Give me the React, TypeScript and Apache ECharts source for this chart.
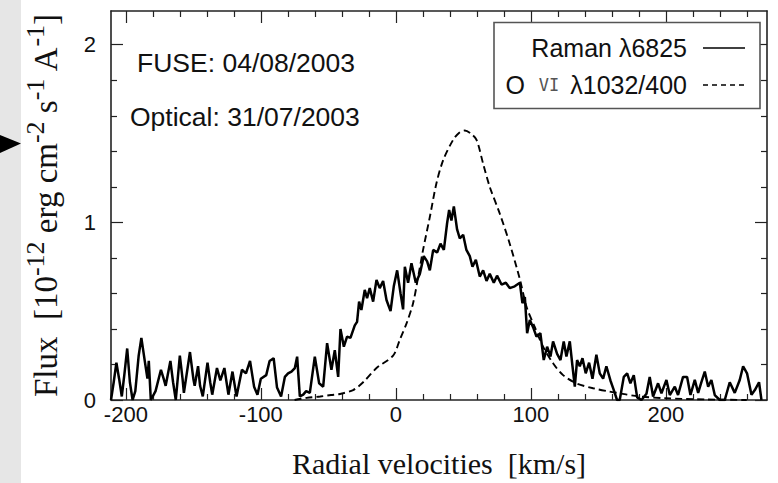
import React, { useEffect, useRef } from "react";
import * as echarts from "echarts";

// Raman λ6825 profile (velocity km/s, flux 1e-12 units)
const ramanV = [
  -211, -209, -207, -205, -203, -201, -199, -197, -195, -193, -190.5, -188.5, -186, -184, -183, -181.5,
  -178, -174, -172, -170.5, -167, -165, -163, -160, -158, -157, -152.5, -150, -149, -146.5, -145, -143,
  -139.5, -137.5, -136, -132.5, -130, -127, -124, -121, -118, -114, -111, -108, -105, -102.5, -100, -96,
  -93.5, -90.5, -88, -85, -82.2, -79.8, -77.3, -74.8, -73.1, -71.1, -68.6, -66.4, -63.7, -60, -56.8,
  -53.8, -50.9, -47.7, -45.2, -42.7, -41, -38.5, -36.1, -33.6, -30.4, -28.7, -27.2, -25.5, -23, -21.3,
  -19.3, -16.8, -14.3, -11.9, -9.4, -6.9, -3.9, -1.5, 1.0, 3.5, 5.4, 6.7, 9.1, 11.6, 14.8, 17.8, 20.7,
  23.2, 25.2, 27.7, 30.6, 33.1, 35.6, 38, 39.5, 41.2, 43, 45.4, 47.4, 49.9, 52.3, 54.8, 56.8, 59.3, 62.2,
  64.7, 67.2, 69.6, 72.6, 75, 78.3, 81.5, 84.4, 88.1, 91.9, 93.8, 95.6, 97.3, 99.3, 101.7, 104.2, 107.1,
  109.6, 112.1, 114.6, 116.5, 119.5, 122, 124.4, 126.4, 128.9, 130.9, 132.6, 134.3, 136.3, 138.3, 140.7,
  143.2, 145.7, 148.6, 151.1, 153.6, 156, 159, 161.5, 163.9, 165.9, 168.9, 171.4, 173.8, 176.3, 178.8,
  182, 185.7, 188.1, 190.6, 194.3, 196.8, 200.5, 203, 206.7, 209.1, 212.8, 215.8, 218.3, 221.5, 224,
  226.4, 228.9, 231.4, 233.8, 236.3, 240, 243.7, 247.4, 251.1, 254.8, 257.3, 260.2, 263.5, 266, 269.1, 270.9,
];
const ramanFlux = [
  0.0, 0.10, 0.21, 0.12, 0.02, 0.15, 0.29, 0.10, 0.0, 0.05, 0.25, 0.35, 0.22, 0.12, 0.22, 0.0,
  0.05, 0.17, 0.12, 0.08, 0.22, 0.10, 0.0, 0.25, 0.12, 0.04, 0.27, 0.12, 0.08, 0.19, 0.08, 0.02,
  0.21, 0.10, 0.03, 0.18, 0.11, 0.18, 0.03, 0.16, 0.02, 0.17, 0.15, 0.22, 0.075, 0.03, 0.12, 0.14,
  0.22, 0.235, 0.07, 0.02, 0.13, 0.15, 0.16, 0.18, 0.244, 0.02, 0.03, 0.05, 0.04, 0.244, 0.094,
  0.075, 0.32, 0.17, 0.28, 0.13, 0.40, 0.30, 0.357, 0.35, 0.42, 0.44, 0.554, 0.507, 0.62, 0.573,
  0.63, 0.554, 0.676, 0.63, 0.67, 0.563, 0.50, 0.64, 0.73, 0.60, 0.51, 0.75, 0.66, 0.77, 0.66, 0.71, 0.81,
  0.78, 0.73, 0.845, 0.83, 0.88, 0.845, 0.995, 1.07, 1.01, 1.09, 0.96, 0.91, 0.93, 0.845, 0.81, 0.75, 0.79, 0.695,
  0.73, 0.67, 0.71, 0.66, 0.70, 0.65, 0.66, 0.63, 0.64, 0.66, 0.545, 0.58, 0.376, 0.45, 0.41, 0.357, 0.376,
  0.225, 0.30, 0.245, 0.33, 0.26, 0.225, 0.33, 0.245, 0.33, 0.19, 0.075, 0.225, 0.19, 0.235, 0.15,
  0.21, 0.12, 0.255, 0.15, 0.12, 0.19, 0.11, 0.056, 0.0, 0.0, 0.13, 0.15, 0.094, 0.14, 0.015,
  0.0, 0.035, 0.13, 0.02, 0.094, 0.038, 0.113, 0.028, 0.075, 0.028, 0.13, 0.13, 0.028, 0.113, 0.04,
  0.10, 0.16, 0.075, 0.113, 0.028, 0.0, 0.0, 0.10, 0.04, 0.113, 0.19, 0.15, 0.03, 0.056, 0.10, 0.0,
];

// O VI λ1032 profile divided by 400
const oviV = [
  -75, -66, -56, -48, -41.5, -31.6, -24.2, -14.3, -2, 3, 7.9, 12.8, 16.5, 20.2, 25.2, 30.1, 35.1, 42.5,
  47, 51.1, 55.5, 59.8, 64.7, 69.6, 77, 84.4, 91.9, 96.8, 103, 109.1, 116.5, 123.9, 133.8, 146.2, 158.5,
  165.9, 180, 200, 230, 260,
];
const oviFlux = [
  0.0, 0.012, 0.02, 0.028, 0.034, 0.056, 0.10, 0.18, 0.25, 0.34, 0.43, 0.545, 0.69, 0.845, 1.03, 1.22, 1.35, 1.465,
  1.505, 1.517, 1.50, 1.465, 1.33, 1.20, 1.05, 0.88, 0.68, 0.526, 0.41, 0.30, 0.207, 0.14, 0.094, 0.066, 0.047,
  0.038, 0.02, 0.01, 0.003, 0.0,
];

const xMajorTicks = [-200, -100, 0, 100, 200];
const xMinorTicks = [-180, -160, -140, -120, -80, -60, -40, -20, 20, 40, 60, 80, 120, 140, 160, 180, 220, 240, 260];
const yMajorTicks = [0, 1, 2];
const yMinorTicks = [0.2, 0.4, 0.6, 0.8, 1.2, 1.4, 1.6, 1.8];

const X_MIN = -211;
const X_MAX = 275;
const Y_MIN = 0;
const Y_MAX = 2.19;

const SANS = "Liberation Sans";
const SERIF = "Liberation Serif";
const AXIS_COLOR = "#222";

function xAxisDef(position: string, ticks: number[], len: number, labels: boolean, line: boolean, extra: any = {}) {
  return {
    type: "value",
    min: X_MIN,
    max: X_MAX,
    position,
    axisLine: { show: line, onZero: false, lineStyle: { color: AXIS_COLOR, width: 1.6 } },
    axisTick: { show: true, inside: true, length: len, customValues: ticks, lineStyle: { color: AXIS_COLOR, width: 1.2 } },
    axisLabel: {
      show: labels,
      customValues: ticks,
      fontFamily: SANS,
      fontSize: 22,
      color: "#111",
      margin: 3,
    },
    splitLine: { show: false },
    ...extra,
  };
}

function yAxisDef(position: string, ticks: number[], len: number, labels: boolean, line: boolean, extra: any = {}) {
  return {
    type: "value",
    min: Y_MIN,
    max: Y_MAX,
    position,
    axisLine: { show: line, onZero: false, lineStyle: { color: AXIS_COLOR, width: 1.6 } },
    axisTick: { show: true, inside: true, length: len, customValues: ticks, lineStyle: { color: AXIS_COLOR, width: 1.2 } },
    axisLabel: {
      show: labels,
      customValues: ticks,
      fontFamily: SANS,
      fontSize: 22,
      color: "#111",
      margin: 15,
    },
    splitLine: { show: false },
    ...extra,
  };
}

export default function App() {
  const ref = useRef<HTMLDivElement>(null);

  useEffect(() => {
    if (!ref.current) return;
    const chart = echarts.init(ref.current, null, { renderer: "svg" });

    const ramanData = ramanV.map((v, i) => [v, ramanFlux[i]]);
    const oviData = oviV.map((v, i) => [v, oviFlux[i]]);

    chart.setOption({
      animation: false,
      backgroundColor: "#ffffff",
      grid: { left: 111, right: 11, top: 11, bottom: 83, containLabel: false, outerBoundsMode: "none" },
      xAxis: [
        xAxisDef("bottom", xMajorTicks, 12, true, true, {
          name: "Radial velocities  [km/s]",
          nameLocation: "middle",
          nameGap: 63,
          nameTextStyle: { fontFamily: SERIF, fontSize: 30, color: "#111", align: "center", verticalAlign: "middle" },
        }),
        xAxisDef("bottom", xMinorTicks, 6, false, false),
        xAxisDef("top", xMajorTicks, 12, false, true),
        xAxisDef("top", xMinorTicks, 6, false, false),
      ],
      yAxis: [
        yAxisDef("left", yMajorTicks, 12, true, true, {
          name: "{b|Flux  [10}{s|-12}{b| erg cm}{s|-2}{b| s}{s|-1}{b| A}{s|-1}{b|]}",
          nameLocation: "middle",
          nameGap: 65,
          nameRotate: 90,
          nameTextStyle: {
            align: "center",
            verticalAlign: "middle",
            color: "#111",
            rich: {
              b: { fontFamily: SERIF, fontSize: 33, lineHeight: 48, color: "#111", verticalAlign: "middle" },
              s: { fontFamily: SERIF, fontSize: 26, lineHeight: 26, color: "#111", verticalAlign: "top" },
            },
          },
        }),
        yAxisDef("left", yMinorTicks, 6, false, false),
        yAxisDef("right", yMajorTicks, 12, false, true),
        yAxisDef("right", yMinorTicks, 6, false, false),
      ],
      series: [
        {
          name: "Raman λ6825",
          type: "line",
          xAxisIndex: 0,
          yAxisIndex: 0,
          data: ramanData,
          symbol: "none",
          lineStyle: { color: "#000", width: 2.5, type: "solid" },
          z: 3,
        },
        {
          name: "O VI λ1032/400",
          type: "line",
          xAxisIndex: 0,
          yAxisIndex: 0,
          data: oviData,
          symbol: "none",
          smooth: 0.3,
          lineStyle: { color: "#000", width: 1.9, type: [7, 4] },
          z: 2,
        },
      ],
      graphic: [
        { type: "rect", shape: { x: 0, y: 0, width: 21, height: 483 }, style: { fill: "#e6e6e6" }, z: 0, silent: true },
        {
          type: "polygon",
          shape: { points: [[0, 135], [21, 143.5], [0, 153]] },
          style: { fill: "#000" },
          z: 10,
        },
        {
          type: "text",
          x: 137,
          y: 63,
          style: { text: "FUSE: 04/08/2003", fontFamily: SANS, fontSize: 26.5, fill: "#111", align: "left", verticalAlign: "middle" },
          z: 10,
        },
        {
          type: "text",
          x: 130,
          y: 117,
          style: { text: "Optical: 31/07/2003", fontFamily: SANS, fontSize: 26.5, fill: "#111", align: "left", verticalAlign: "middle" },
          z: 10,
        },
        {
          type: "rect",
          shape: { x: 494, y: 22.5, width: 266, height: 86 },
          style: { fill: "#fff", stroke: "#555", lineWidth: 1.6 },
          z: 10,
        },
        {
          type: "text",
          x: 687,
          y: 48,
          style: { text: "Raman λ6825", fontFamily: SANS, fontSize: 25, fill: "#111", align: "right", verticalAlign: "middle" },
          z: 11,
        },
        {
          type: "text",
          x: 687,
          y: 85,
          style: {
            text: "{n|O }{v|VI}{n| λ1032/400}",
            align: "right",
            verticalAlign: "middle",
            rich: {
              n: { fontFamily: SANS, fontSize: 25, fill: "#111", lineHeight: 28 },
              v: { fontFamily: "DejaVu Sans Mono", fontSize: 17, fill: "#555", lineHeight: 28, padding: [0, 4, 0, 7] },
            },
          },
          z: 11,
        },
        {
          type: "line",
          shape: { x1: 703, y1: 48, x2: 745, y2: 48 },
          style: { stroke: "#000", lineWidth: 1.6 },
          z: 11,
        },
        {
          type: "line",
          shape: { x1: 703, y1: 85, x2: 745, y2: 85 },
          style: { stroke: "#000", lineWidth: 1.6, lineDash: [5, 4] },
          z: 11,
        },
      ],
    });

    return () => {
      chart.dispose();
    };
  }, []);

  return (
    <div
      ref={ref}
      style={{ position: "fixed", left: 0, top: 0, width: 778, height: 483, background: "#fff" }}
    />
  );
}
